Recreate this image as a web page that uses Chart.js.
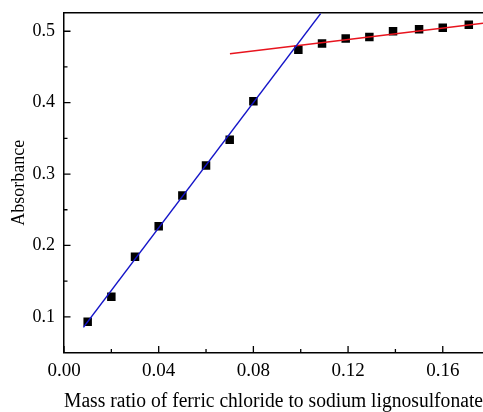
<!DOCTYPE html>
<html>
<head>
<meta charset="utf-8">
<script src="https://cdn.jsdelivr.net/npm/chart.js@4.4.1/dist/chart.umd.min.js"></script>
<style>
    html, body { margin: 0; padding: 0; background: #fff; overflow: hidden; }
    #wrap { width: 483px; height: 412px; }
</style>
</head>
<body>
<div id="wrap"><canvas id="absChart"></canvas></div>
<script>
// Measured points (mass ratio vs absorbance)
const massRatio = [0.01, 0.02, 0.03, 0.04, 0.05, 0.06, 0.07, 0.08,
                   0.099, 0.109, 0.119, 0.129, 0.139, 0.150, 0.160, 0.171];
const absorbance = [0.093, 0.128, 0.184, 0.227, 0.270, 0.312, 0.348, 0.402,
                    0.474, 0.483, 0.490, 0.492, 0.500, 0.503, 0.505, 0.509];

// Fitted lines (end points)
const blueFitX = [0.0082, 0.1084];
const blueFitY = [0.0852, 0.5247];
const redFitX = [0.0701, 0.177];
const redFitY = [0.4684, 0.5112];

// Axis ticks
const xMajorTicks = [0.00, 0.04, 0.08, 0.12, 0.16];
const xMinorTicks = [0.02, 0.06, 0.10, 0.14];
const yMajorTicks = [0.1, 0.2, 0.3, 0.4, 0.5];
const yMinorTicks = [0.15, 0.25, 0.35, 0.45];

const serif = "'Liberation Serif', 'Times New Roman', serif";

const toPoints = (xs, ys) => xs.map((x, i) => ({ x: x, y: ys[i] }));

// no extra room for edge labels, the plot box is fixed
const noPadding = (scale) => {
    scale.paddingLeft = 0;
    scale.paddingRight = 0;
    scale.paddingTop = 0;
    scale.paddingBottom = 0;
};

// Origin-style ticks pointing into the plot
const innerTicks = {
    id: 'innerTicks',
    afterDraw(chart) {
        const { ctx, chartArea, scales } = chart;
        ctx.save();
        ctx.strokeStyle = '#000';
        ctx.lineWidth = 1.3;
        ctx.beginPath();
        const xTick = (v, len) => {
            const px = scales.x.getPixelForValue(v);
            ctx.moveTo(px, chartArea.bottom);
            ctx.lineTo(px, chartArea.bottom - len);
        };
        const yTick = (v, len) => {
            const py = scales.y.getPixelForValue(v);
            ctx.moveTo(chartArea.left, py);
            ctx.lineTo(chartArea.left + len, py);
        };
        xMajorTicks.forEach(v => xTick(v, 6.5));
        xMinorTicks.forEach(v => xTick(v, 3.5));
        yMajorTicks.forEach(v => yTick(v, 6.5));
        yMinorTicks.forEach(v => yTick(v, 3.5));
        ctx.stroke();
        ctx.restore();
    }
};

new Chart(document.getElementById('absChart'), {
    type: 'scatter',
    data: {
        datasets: [
            {
                type: 'line',
                data: toPoints(blueFitX, blueFitY),
                borderColor: '#1414c8',
                borderWidth: 1.5,
                pointRadius: 0,
                fill: false
            },
            {
                type: 'line',
                data: toPoints(redFitX, redFitY),
                borderColor: '#e8141e',
                borderWidth: 1.5,
                pointRadius: 0,
                fill: false
            },
            {
                data: toPoints(massRatio, absorbance),
                pointStyle: 'rect',
                pointRadius: 6,
                pointBackgroundColor: '#000',
                pointBorderColor: '#000',
                pointBorderWidth: 0
            }
        ]
    },
    options: {
        responsive: true,
        maintainAspectRatio: false,
        animation: false,
        layout: { padding: 0, autoPadding: false },
        plugins: {
            legend: { display: false },
            tooltip: { enabled: false }
        },
        scales: {
            x: {
                type: 'linear',
                position: 'bottom',
                min: 0,
                max: 0.177,
                afterBuildTicks: (scale) => { scale.ticks = xMajorTicks.map(v => ({ value: v })); },
                afterFit: (scale) => { scale.height = 59.5; noPadding(scale); },
                grid: { display: false, drawTicks: false },
                border: { display: true, color: '#000', width: 1.5 },
                ticks: {
                    color: '#000',
                    padding: 7,
                    maxRotation: 0,
                    font: { family: serif, size: 19 },
                    callback: (v) => Number(v).toFixed(2)
                },
                title: {
                    display: true,
                    text: 'Mass ratio of ferric chloride to sodium lignosulfonate',
                    color: '#000',
                    font: { family: serif, size: 20, lineHeight: 1 },
                    padding: { top: 0, bottom: 0.5 }
                }
            },
            xTop: {
                type: 'linear',
                position: 'top',
                min: 0,
                max: 0.177,
                afterFit: (scale) => { scale.height = 13; noPadding(scale); },
                grid: { display: false, drawTicks: false },
                border: { display: true, color: '#000', width: 1.5 },
                ticks: { display: false }
            },
            y: {
                type: 'linear',
                position: 'left',
                min: 0.05,
                max: 0.5256,
                afterBuildTicks: (scale) => { scale.ticks = yMajorTicks.map(v => ({ value: v })); },
                afterFit: (scale) => { scale.width = 64; noPadding(scale); },
                grid: { display: false, drawTicks: false },
                border: { display: true, color: '#000', width: 1.5 },
                ticks: {
                    color: '#000',
                    padding: 9,
                    font: { family: serif, size: 18 },
                    callback: (v) => Number(v).toFixed(1)
                },
                title: {
                    display: true,
                    text: 'Absorbance',
                    color: '#000',
                    font: { family: serif, size: 18, lineHeight: 1 },
                    padding: { top: 10, bottom: 0 }
                }
            }
        }
    },
    plugins: [innerTicks]
});
</script>
</body>
</html>
